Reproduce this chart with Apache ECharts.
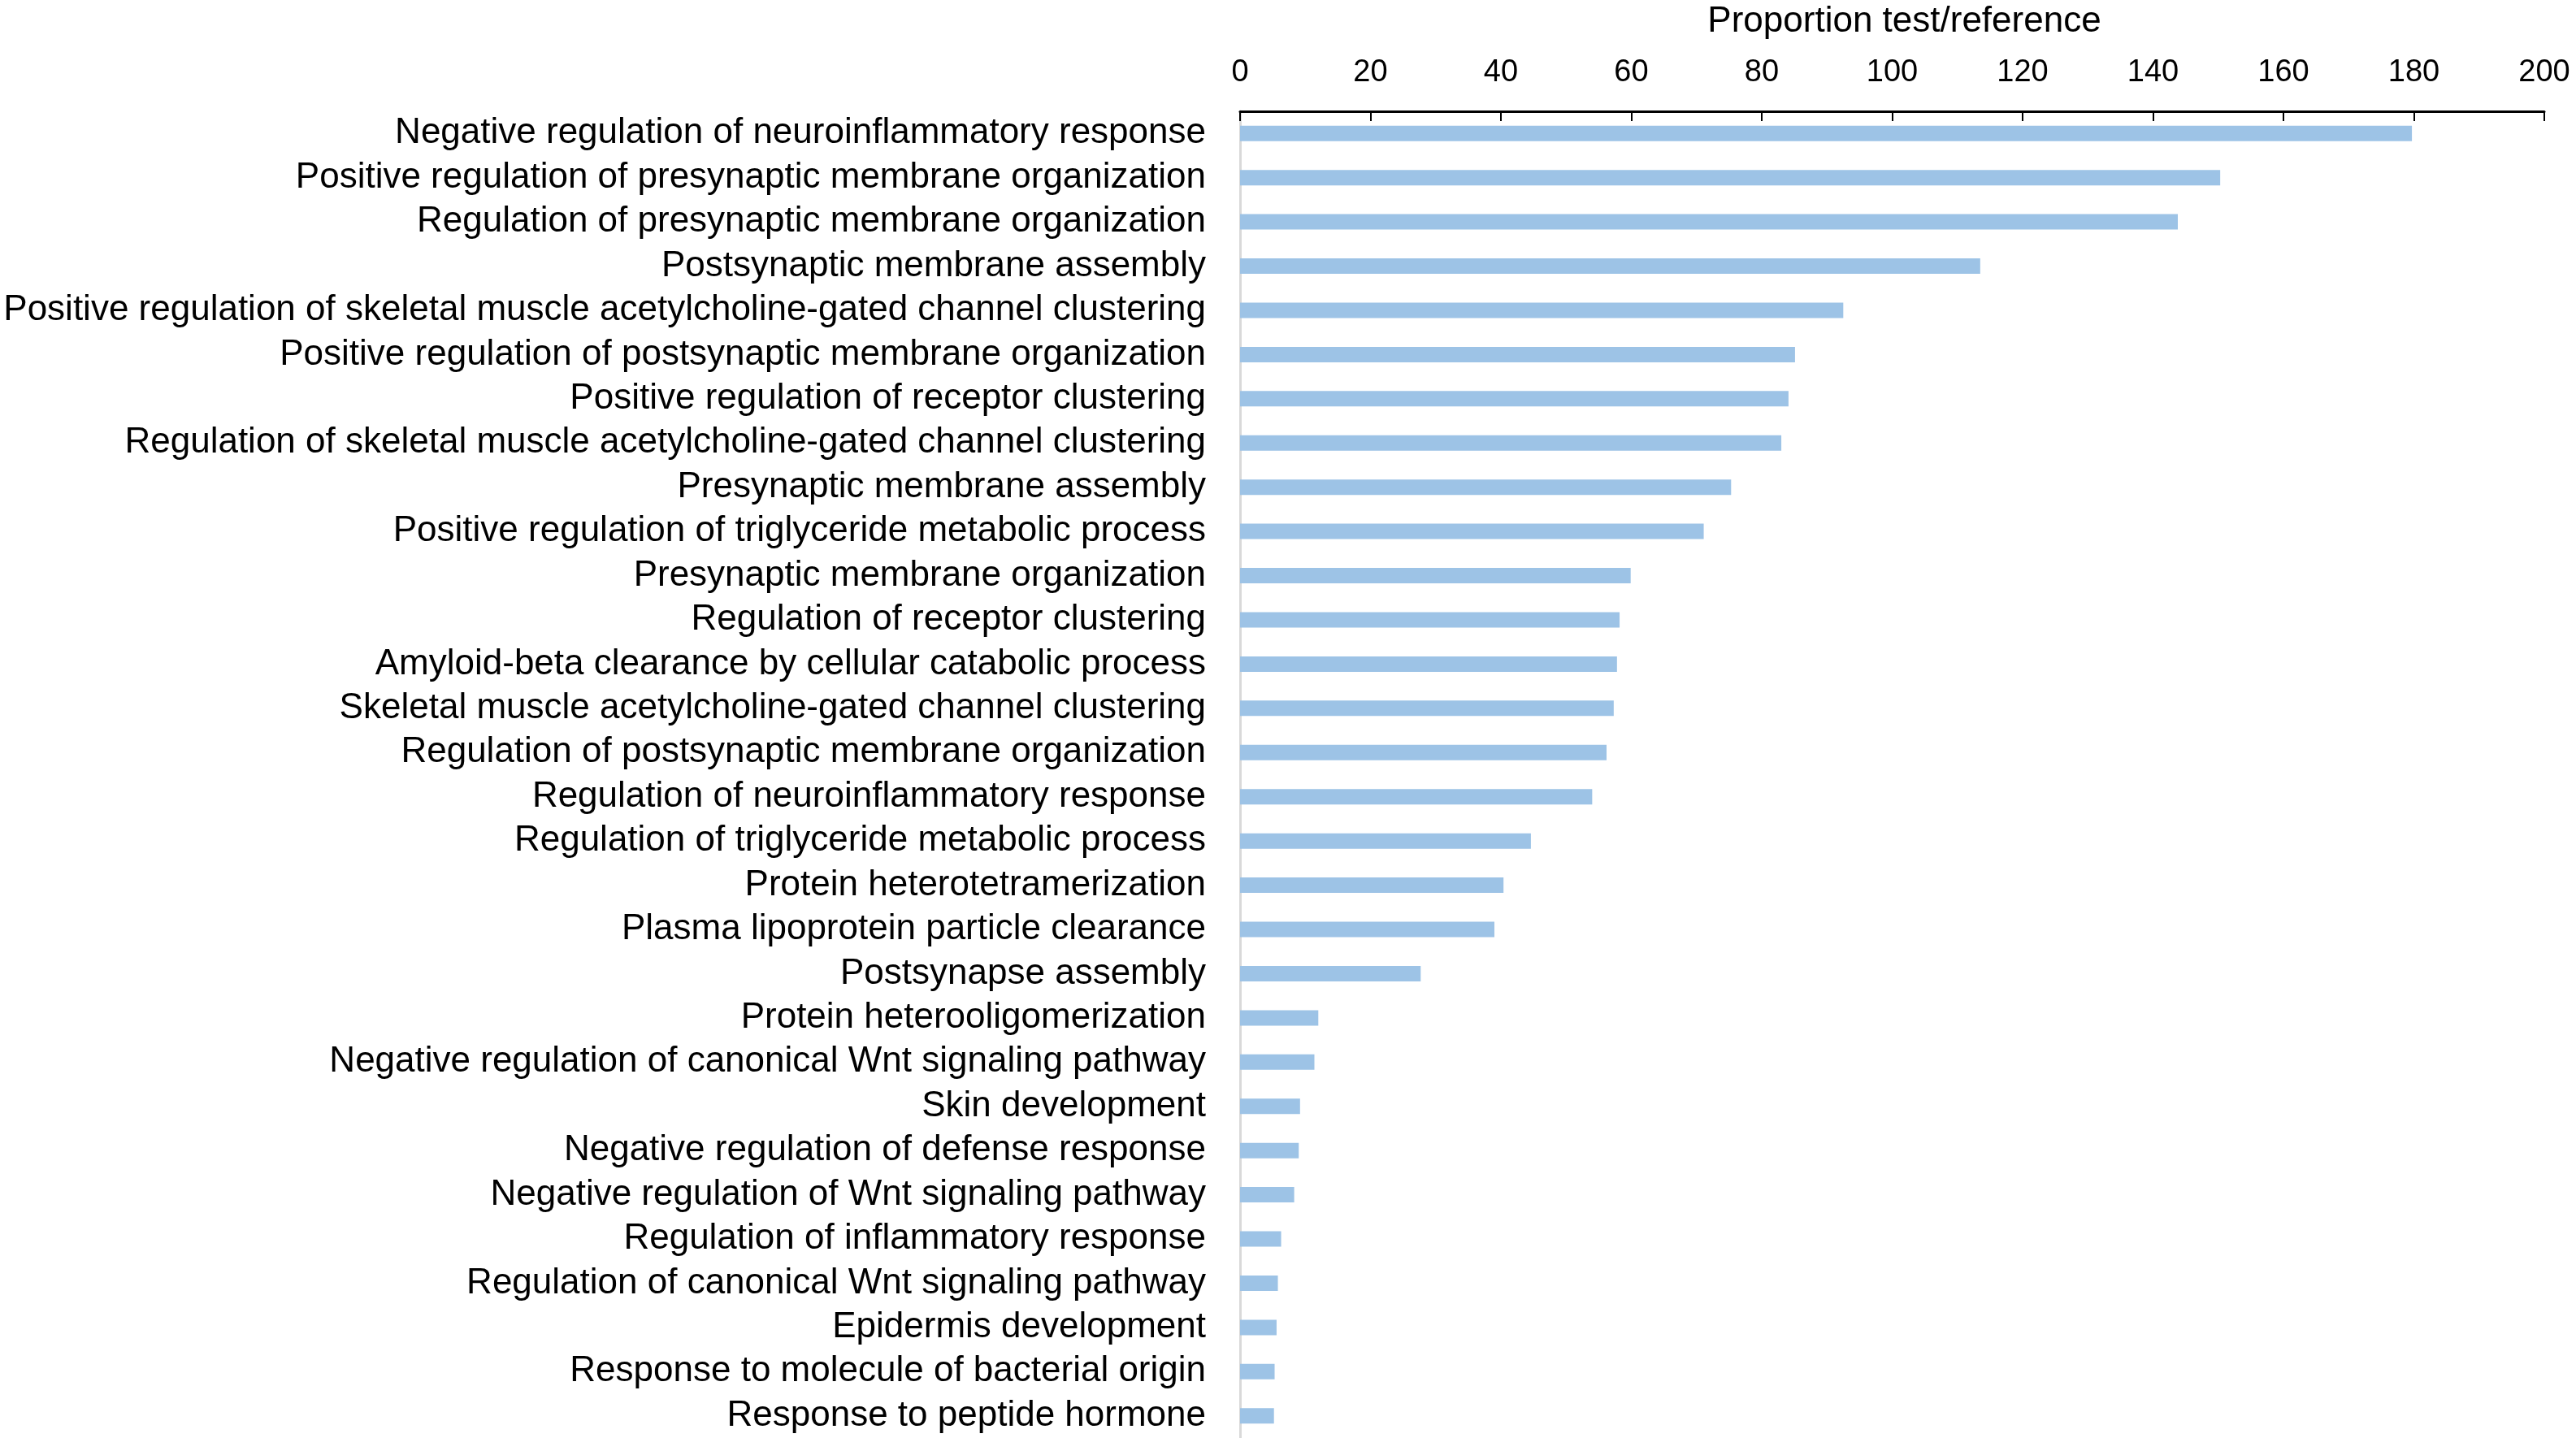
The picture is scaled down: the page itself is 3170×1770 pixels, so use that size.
<!DOCTYPE html>
<html>
<head>
<meta charset="utf-8">
<script src="https://cdn.jsdelivr.net/npm/echarts@6/dist/echarts.min.js"></script>
<style>
html,body{margin:0;padding:0;background:#fff;}
#chart{width:3170px;height:1770px;}
</style>
</head>
<body>
<div id="chart"></div>
<script>
const categories = [
  "Negative regulation of neuroinflammatory response",
  "Positive regulation of presynaptic membrane organization",
  "Regulation of presynaptic membrane organization",
  "Postsynaptic membrane assembly",
  "Positive regulation of skeletal muscle acetylcholine-gated channel clustering",
  "Positive regulation of postsynaptic membrane organization",
  "Positive regulation of receptor clustering",
  "Regulation of skeletal muscle acetylcholine-gated channel clustering",
  "Presynaptic membrane assembly",
  "Positive regulation of triglyceride metabolic process",
  "Presynaptic membrane organization",
  "Regulation of receptor clustering",
  "Amyloid-beta clearance by cellular catabolic process",
  "Skeletal muscle acetylcholine-gated channel clustering",
  "Regulation of postsynaptic membrane organization",
  "Regulation of neuroinflammatory response",
  "Regulation of triglyceride metabolic process",
  "Protein heterotetramerization",
  "Plasma lipoprotein particle clearance",
  "Postsynapse assembly",
  "Protein heterooligomerization",
  "Negative regulation of canonical Wnt signaling pathway",
  "Skin development",
  "Negative regulation of defense response",
  "Negative regulation of Wnt signaling pathway",
  "Regulation of inflammatory response",
  "Regulation of canonical Wnt signaling pathway",
  "Epidermis development",
  "Response to molecule of bacterial origin",
  "Response to peptide hormone"
];
const proportion = [
  179.7, 150.3, 143.8, 113.5, 92.5, 85.1, 84.1, 83.0, 75.3, 71.1,
  59.9, 58.2, 57.8, 57.3, 56.2, 54.0, 44.6, 40.4, 39.0, 27.7,
  12.0, 11.4, 9.2, 9.0, 8.3, 6.3, 5.8, 5.6, 5.3, 5.2
];
const axisTitle = "Proportion test/reference";

const chart = echarts.init(document.getElementById('chart'));
const font = "'Liberation Sans', Arial, sans-serif";
chart.setOption({
  backgroundColor: '#ffffff',
  animation: false,
  grid: { left: 1526, right: 39, top: 137, bottom: 0, containLabel: false, outerBoundsMode: 'none' },
  xAxis: {
    type: 'value',
    position: 'top',
    min: 0, max: 200, interval: 20,
    name: axisTitle,
    nameLocation: 'middle',
    nameGap: 88,
    nameTextStyle: { fontSize: 44, color: '#000', fontFamily: font, padding: [0, 0, 0, 30] },
    axisLine: { show: true, lineStyle: { color: '#000', width: 3 } },
    axisTick: { show: true, inside: true, length: 12, lineStyle: { color: '#000', width: 2 } },
    axisLabel: { fontSize: 38, color: '#000', fontFamily: font, margin: 28 },
    splitLine: { show: false }
  },
  yAxis: {
    type: 'category',
    inverse: true,
    data: categories,
    axisLine: { show: true, lineStyle: { color: '#d9d9d9', width: 3 } },
    axisTick: { show: false },
    axisLabel: { fontSize: 44, color: '#000', fontFamily: font, margin: 42, interval: 0 },
    splitLine: { show: false }
  },
  series: [{
    type: 'bar',
    data: proportion,
    barWidth: 19,
    itemStyle: { color: '#9dc3e6' }
  }]
});
</script>
</body>
</html>
